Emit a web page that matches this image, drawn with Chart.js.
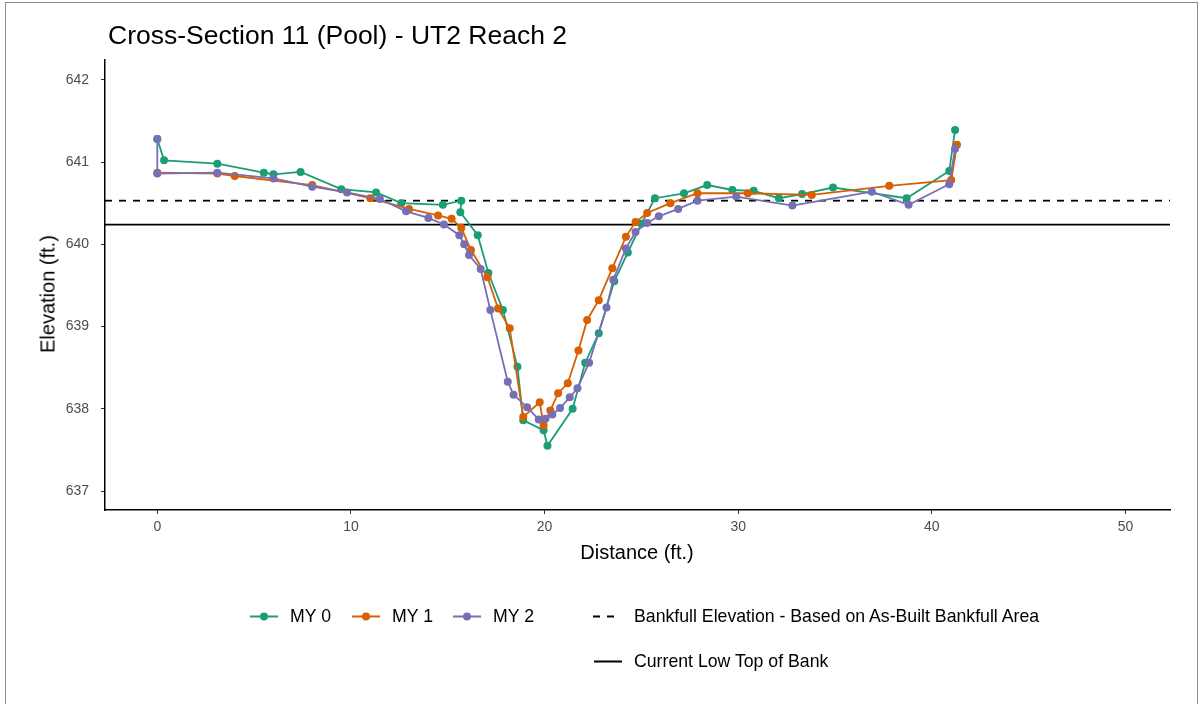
<!DOCTYPE html>
<html>
<head>
<meta charset="utf-8">
<script src="https://cdn.jsdelivr.net/npm/chart.js@4"></script>
<style>
  html, body { margin: 0; padding: 0; background: #fff; }
  body { width: 1201px; height: 704px; position: relative; overflow: hidden; font-family: "Liberation Sans", Arial, sans-serif; }
  #frame { position: absolute; left: 5px; top: 2px; width: 1191px; height: 720px; border: 1px solid #8c8c8c; }
  #wrap { position: absolute; left: 0; top: 0; width: 1201px; height: 704px; }
  #title { position: absolute; left: 108px; top: 35px; font-size: 26.5px; color: #000; white-space: nowrap; transform: translateY(-50%); }
  #ytitle { position: absolute; left: 48px; top: 294px; font-size: 20px; transform: translate(-50%, -50%) rotate(-90deg); white-space: nowrap; }
  #xtitle { position: absolute; left: 637px; top: 552px; font-size: 20px; transform: translate(-50%, -50%); white-space: nowrap; }
  .leg { position: absolute; font-size: 17.7px; color: #000; white-space: nowrap; display: flex; align-items: center; transform: translateY(-50%); }
  .key { position: relative; width: 28px; height: 14px; margin-right: 12px; }
  .key .ln { position: absolute; left: 0; right: 0; top: 6px; height: 2px; }
  .key .pt { position: absolute; left: 10px; top: 3px; width: 8px; height: 8px; border-radius: 50%; }
</style>
</head>
<body>
<div id="frame"></div>
<div id="wrap"><canvas id="xs" width="1201" height="704"></canvas></div>
<div id="title">Cross-Section 11 (Pool) - UT2 Reach 2</div>
<div id="ytitle">Elevation (ft.)</div>
<div id="xtitle">Distance (ft.)</div>
<div id="legend"></div>
<script>
// survey data, distance (ft.) and elevation (ft.)
const distMY0 = [0, 0.35, 3.1, 5.5, 6.0, 7.4, 9.5, 11.3, 12.6, 14.75, 15.7, 15.65, 16.55, 17.1, 17.85, 18.6, 18.9, 19.95, 20.15, 21.45, 22.1, 22.8, 23.6, 24.3, 25.0, 25.7, 27.2, 28.4, 29.7, 30.8, 32.1, 33.3, 34.9, 38.7, 40.9, 41.2];
const elevMY0 = [641.28, 641.02, 640.98, 640.87, 640.85, 640.88, 640.67, 640.63, 640.5, 640.48, 640.53, 640.39, 640.11, 639.65, 639.2, 638.51, 637.86, 637.74, 637.55, 638.0, 638.56, 638.92, 639.55, 639.9, 640.25, 640.56, 640.62, 640.72, 640.66, 640.65, 640.56, 640.61, 640.69, 640.56, 640.89, 641.39];

const distMY1 = [0, 3.1, 4.0, 8.0, 11.0, 13.0, 14.5, 15.2, 15.7, 16.2, 17.05, 17.6, 18.2, 18.9, 19.75, 19.95, 20.3, 20.7, 21.2, 21.75, 22.2, 22.8, 23.5, 24.2, 24.7, 25.3, 26.5, 27.9, 30.5, 33.8, 37.8, 41.0, 41.3];
const elevMY1 = [640.87, 640.86, 640.83, 640.72, 640.56, 640.43, 640.35, 640.31, 640.2, 639.93, 639.6, 639.22, 638.98, 637.9, 638.08, 637.8, 637.98, 638.19, 638.31, 638.71, 639.08, 639.32, 639.71, 640.09, 640.27, 640.38, 640.5, 640.62, 640.62, 640.6, 640.71, 640.78, 641.21];

const distMY2 = [0, 0, 3.1, 6.0, 8.0, 9.8, 11.5, 12.85, 14.0, 14.8, 15.6, 15.85, 16.1, 16.7, 17.2, 18.1, 18.4, 19.1, 19.7, 20.05, 20.4, 20.8, 21.3, 21.7, 22.3, 23.2, 23.55, 24.2, 24.7, 25.3, 25.9, 26.9, 27.9, 29.9, 32.8, 36.9, 38.8, 40.9, 41.2];
const elevMY2 = [641.28, 640.86, 640.87, 640.8, 640.7, 640.63, 640.55, 640.4, 640.32, 640.24, 640.11, 640.0, 639.87, 639.7, 639.2, 638.33, 638.17, 638.02, 637.87, 637.88, 637.93, 638.01, 638.14, 638.25, 638.56, 639.23, 639.57, 639.95, 640.15, 640.26, 640.34, 640.43, 640.53, 640.58, 640.47, 640.64, 640.48, 640.73, 641.16];

const bankfullElev = 640.53;
const lowTopOfBank = 640.24;

const xTicks = [0, 10, 20, 30, 40, 50];
const yTicks = [637, 638, 639, 640, 641, 642];
const xRange = [-2.7, 52.3];
const yRange = [636.77, 642.24];

const surveyNames = ['MY 0', 'MY 1', 'MY 2'];
const surveyColors = ['#1B9E77', '#D95F02', '#7570B3'];

const toPoints = (xs, ys) => xs.map((x, i) => ({ x: x, y: ys[i] }));

function surveySet(i, xs, ys) {
    return {
        label: surveyNames[i],
        data: toPoints(xs, ys),
        showLine: true,
        borderColor: surveyColors[i],
        backgroundColor: surveyColors[i],
        borderWidth: 1.8,
        pointRadius: 4,
        pointBorderWidth: 0,
        order: 3 - i
    };
}

function hLine(label, y, dash) {
    return {
        label: label,
        data: [{ x: xRange[0], y: y }, { x: xRange[1], y: y }],
        showLine: true,
        borderColor: '#000',
        borderWidth: 1.8,
        borderDash: dash,
        pointRadius: 0,
        order: 10
    };
}

const ctx = document.getElementById('xs').getContext('2d');
new Chart(ctx, {
    type: 'scatter',
    data: {
        datasets: [
            surveySet(0, distMY0, elevMY0),
            surveySet(1, distMY1, elevMY1),
            surveySet(2, distMY2, elevMY2),
            hLine('Bankfull Elevation - Based on As-Built Bankfull Area', bankfullElev, [7, 7]),
            hLine('Current Low Top of Bank', lowTopOfBank, [])
        ]
    },
    options: {
        responsive: false,
        animation: false,
        layout: { padding: { top: 60, right: 31, bottom: 0, left: 0 } },
        plugins: {
            legend: { display: false },
            tooltip: { enabled: false }
        },
        scales: {
            x: {
                type: 'linear',
                min: xRange[0],
                max: xRange[1],
                afterBuildTicks: s => { s.ticks = xTicks.map(v => ({ value: v })); },
                afterFit: s => { s.height = 194; },
                grid: { display: true, drawOnChartArea: false, drawTicks: true, tickLength: 4, color: '#333', lineWidth: 1 },
                border: { display: true, color: '#000', width: 1.5 },
                ticks: { color: '#4d4d4d', font: { family: 'Liberation Sans', size: 14 }, padding: 5, maxRotation: 0 }
            },
            y: {
                type: 'linear',
                min: yRange[0],
                max: yRange[1],
                afterBuildTicks: s => { s.ticks = yTicks.map(v => ({ value: v })); },
                afterFit: s => { s.width = 105; },
                grid: { display: true, drawOnChartArea: false, drawTicks: true, tickLength: 4, color: '#333', lineWidth: 1 },
                border: { display: true, color: '#000', width: 1.5 },
                ticks: { color: '#4d4d4d', font: { family: 'Liberation Sans', size: 14 }, padding: 12 }
            }
        }
    }
});

// legend below the plot, in the ggplot layout
const legend = document.getElementById('legend');
function addKey(left, top, color, text, kind) {
    const item = document.createElement('div');
    item.className = 'leg';
    item.style.left = left + 'px';
    item.style.top = top + 'px';
    let inner = '<div class="key">';
    if (kind === 'dash') {
        inner += '<div class="ln" style="background: repeating-linear-gradient(90deg,#000 0 7px,transparent 7px 14px); left:-1px; width:28px"></div>';
    } else {
        inner += '<div class="ln" style="background:' + color + '"></div>';
    }
    if (kind === 'point') inner += '<div class="pt" style="background:' + color + '"></div>';
    inner += '</div><span>' + text + '</span>';
    item.innerHTML = inner;
    legend.appendChild(item);
}
addKey(250, 616, surveyColors[0], surveyNames[0], 'point');
addKey(352, 616, surveyColors[1], surveyNames[1], 'point');
addKey(453, 616, surveyColors[2], surveyNames[2], 'point');
addKey(594, 616, '#000', 'Bankfull Elevation - Based on As-Built Bankfull Area', 'dash');
addKey(594, 661, '#000', 'Current Low Top of Bank', 'line');
</script>
</body>
</html>
